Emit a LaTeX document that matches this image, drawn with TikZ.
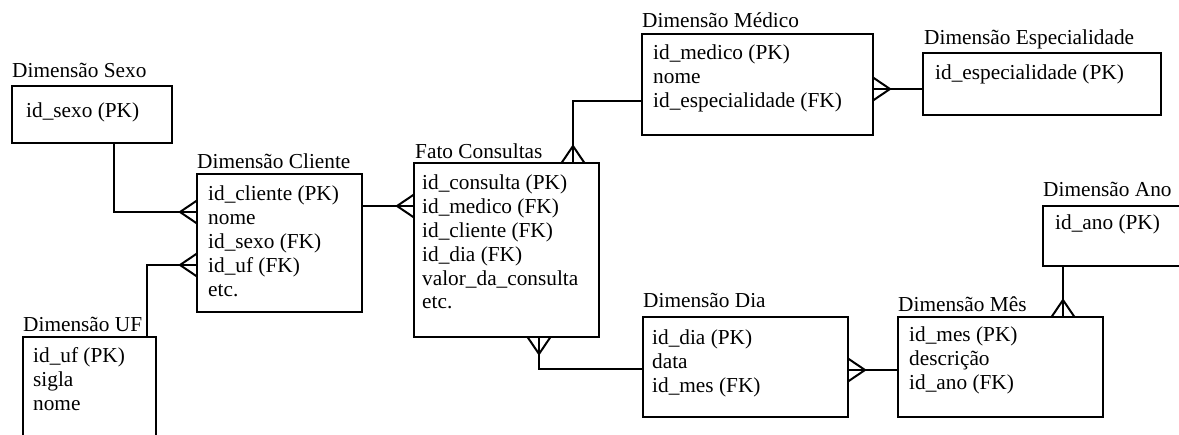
\documentclass[tikz,border=0pt]{standalone}
\usepackage{fontspec}
\setmainfont{Liberation Serif}
% column list whose baseline is that of its first line
\newcommand{\tblcols}[1]{\begin{tabular}[t]{@{}l@{}}#1\end{tabular}}
\begin{document}
\begin{tikzpicture}[x=1pt,y=-1pt,
  tbl/.style={draw, line width=2.4pt, inner sep=0pt, outer sep=0pt, anchor=north west},
  ttl/.style={anchor=base west, inner sep=0pt, font=\fontsize{21.3}{24}\selectfont},
  fld/.style={anchor=base west, inner sep=0pt, font=\fontsize{21.3}{23.8}\selectfont},
  link/.style={line width=2pt},
  crowfoot/.pic={\draw[link] (-17,0) -- (0,11.5) (-17,0) -- (0,-11.5);}
]
\useasboundingbox (0,0) rectangle (1179,435);
\clip (0,0) rectangle (1179,435);

% tables
\node[tbl, minimum width=160pt, minimum height=57pt]  (sexo)    at (12,86)   {};
\node[tbl, minimum width=165pt, minimum height=138pt] (cliente) at (197,174) {};
\node[tbl, minimum width=133pt, minimum height=108pt] (uf)      at (23,337)  {};
\node[tbl, minimum width=185pt, minimum height=174pt] (fato)    at (414,163) {};
\node[tbl, minimum width=231pt, minimum height=101pt] (medico)  at (642,34)  {};
\node[tbl, minimum width=238pt, minimum height=62pt]  (esp)     at (923,53)  {};
\node[tbl, minimum width=205pt, minimum height=100pt] (dia)     at (643,317) {};
\node[tbl, minimum width=205pt, minimum height=100pt] (mes)     at (898,317) {};
\node[tbl, minimum width=142pt, minimum height=60pt]  (ano)     at (1043,206) {};

% table titles
\node[ttl] (sexoT)    at (12,78)   {Dimensão Sexo};
\node[ttl] (clienteT) at (197,169) {Dimensão Cliente};
\node[ttl] (ufT)      at (23,332)  {Dimensão UF};
\node[ttl] (fatoT)    at (415,159) {Fato Consultas};
\node[ttl] (medicoT)  at (642,28)  {Dimensão Médico};
\node[ttl] (espT)     at (924,45)  {Dimensão Especialidade};
\node[ttl] (diaT)     at (643,308) {Dimensão Dia};
\node[ttl] (mesT)     at (898,312) {Dimensão Mês};
\node[ttl] (anoT)     at (1043,197) {Dimensão Ano};

% columns
\node[fld] (sexoF)    at (26,118)  {\tblcols{id\_sexo (PK)}};
\node[fld] (clienteF) at (208,201) {\tblcols{id\_cliente (PK)\\nome\\id\_sexo (FK)\\id\_uf (FK)\\etc.}};
\node[fld] (ufF)      at (33,363)  {\tblcols{id\_uf (PK)\\sigla\\nome}};
\node[fld] (fatoF)    at (422,190) {\tblcols{id\_consulta (PK)\\id\_medico (FK)\\id\_cliente (FK)\\id\_dia (FK)\\valor\_da\_consulta\\etc.}};
\node[fld] (medicoF)  at (653,60)  {\tblcols{id\_medico (PK)\\nome\\id\_especialidade (FK)}};
\node[fld] (espF)     at (935,80)  {\tblcols{id\_especialidade (PK)}};
\node[fld] (diaF)     at (652,345) {\tblcols{id\_dia (PK)\\data\\id\_mes (FK)}};
\node[fld] (mesF)     at (909,342) {\tblcols{id\_mes (PK)\\descrição\\id\_ano (FK)}};
\node[fld] (anoF)     at (1055,230) {\tblcols{id\_ano (PK)}};

% relationships (crow's foot on the many side)
\draw[link] ([xshift=22pt]sexo.south) |- ([yshift=31pt]cliente.west);
\pic at ([yshift=31pt]cliente.west) {crowfoot};

\draw[link] ([xshift=57.5pt]uf.north) |- ([yshift=-22pt]cliente.west);
\pic at ([yshift=-22pt]cliente.west) {crowfoot};

\draw[link] ([yshift=37pt]cliente.east) -- ([yshift=44pt]fato.west);
\pic at ([yshift=44pt]fato.west) {crowfoot};

\draw[link] ([yshift=-16.5pt]medico.west) -| ([xshift=66.5pt]fato.north);
\pic[rotate=-90] at ([xshift=66.5pt]fato.north) {crowfoot};

\draw[link] ([yshift=-5pt]esp.west) -- ([yshift=-4.5pt]medico.east);
\pic[rotate=180] at ([yshift=-4.5pt]medico.east) {crowfoot};

\draw[link] ([yshift=-2pt]dia.west) -| ([xshift=32.5pt]fato.south);
\pic[rotate=90] at ([xshift=32.5pt]fato.south) {crowfoot};

\draw[link] ([yshift=-3pt]mes.west) -- ([yshift=-3pt]dia.east);
\pic[rotate=180] at ([yshift=-3pt]dia.east) {crowfoot};

\draw[link] ([xshift=-51pt]ano.south) -- ([xshift=62.5pt]mes.north);
\pic[rotate=-90] at ([xshift=62.5pt]mes.north) {crowfoot};
\end{tikzpicture}
\end{document}
